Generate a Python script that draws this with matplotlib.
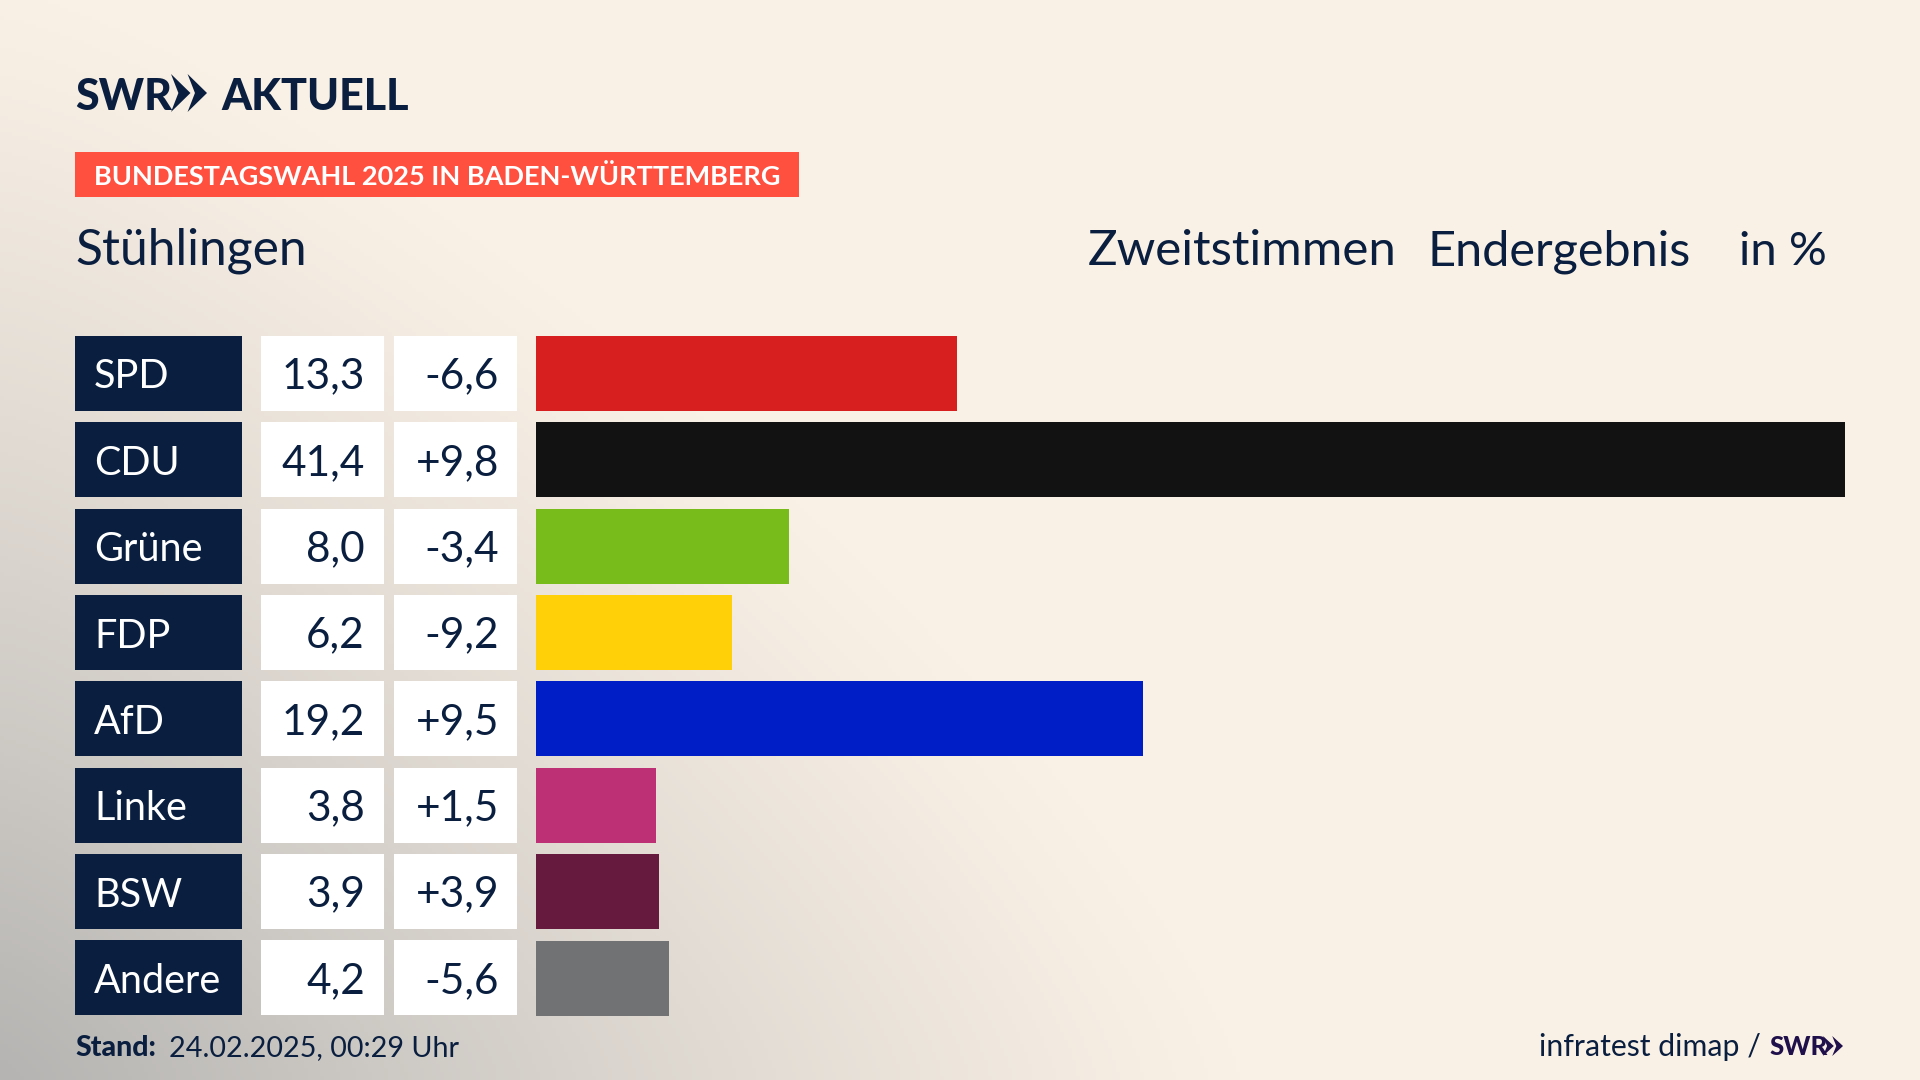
import numpy as np
import matplotlib
matplotlib.use("Agg")
import matplotlib.pyplot as plt
from matplotlib.patches import Rectangle, Polygon
from matplotlib.colors import LinearSegmentedColormap

parties = ["SPD", "CDU", "Grüne", "FDP", "AfD", "Linke", "BSW", "Andere"]
results = [13.3, 41.4, 8.0, 6.2, 19.2, 3.8, 3.9, 4.2]
changes = [-6.6, 9.8, -3.4, -9.2, 9.5, 1.5, 3.9, -5.6]
colors = ["#D81F1F", "#121212", "#78BC1B", "#FFCF08", "#001EC5", "#BD3075", "#661A3E", "#717274"]

NAVY = "#0A1F3F"
FONT = ["Lato", "DejaVu Sans"]


def de(v, sign=False):
    s = f"{v:+.1f}" if sign else f"{v:.1f}"
    return s.replace(".", ",")


def chevrons(ax, x, y, w, h, color):
    # zwei Pfeile vom SWR Logo
    cw = w * 0.54
    t = cw * 0.62
    for x0 in (x, x + w - cw):
        ax.add_patch(Polygon([(x0, y), (x0 + cw, y + h / 2), (x0, y + h), (x0 + cw - t, y + h / 2)],
                             closed=True, fc=color, ec="none"))


fig = plt.figure(figsize=(19.2, 10.8), dpi=100)
ax = fig.add_axes([0, 0, 1, 1])
ax.set_xlim(0, 1920)
ax.set_ylim(1080, 0)
ax.axis("off")

# Hintergrund
xx, yy = np.meshgrid(np.linspace(0, 1920, 480), np.linspace(0, 1080, 270))
d = ((xx / 1250) ** 1.3 + ((1080 - yy) / 1100) ** 1.3) ** (1 / 1.3)
cmap = LinearSegmentedColormap.from_list("bg", ["#FAF1E6", "#B5B4B2"])
ax.imshow(np.clip(1 - d, 0, 1) ** 1.15, extent=[0, 1920, 1080, 0], cmap=cmap, vmin=0, vmax=1, aspect="auto", zorder=0)

# Kopf
ax.text(75, 110, "SWR", family=FONT, weight="black", fontsize=31, color=NAVY, va="baseline")
chevrons(ax, 171, 74, 36, 38, NAVY)
ax.text(221, 110, "AKTUELL", family=FONT, weight="black", fontsize=31, color=NAVY, va="baseline")
ax.add_patch(Rectangle((75, 152), 724, 45, fc="#FF4F3E", ec="none"))
ax.text(94, 185, "BUNDESTAGSWAHL 2025 IN BADEN-WÜRTTEMBERG", family=FONT, weight="bold", fontsize=19.55,
        color="white", va="baseline")
ax.text(75, 265, "Stühlingen", family=FONT, fontsize=35.8, color=NAVY, va="baseline")
ax.text(1088, 265, "Zweitstimmen", family=FONT, fontsize=35.5, color=NAVY, va="baseline")
ax.text(1428, 265, "Endergebnis", family=FONT, fontsize=35, color=NAVY, va="baseline")
ax.text(1739, 265, "in %", family=FONT, fontsize=34, color=NAVY, va="baseline")

# Tabelle links
ROW_TOP = 336
ROW_PITCH = 86.35
ROW_H = 75
for i, party in enumerate(parties):
    top = ROW_TOP + i * ROW_PITCH
    base = top + ROW_H / 2 + 15
    ax.add_patch(Rectangle((75, top), 167, ROW_H, fc=NAVY, ec="none"))
    ax.add_patch(Rectangle((261, top), 123, ROW_H, fc="white", ec="none"))
    ax.add_patch(Rectangle((394, top), 123, ROW_H, fc="white", ec="none"))
    ax.text(94, base, party, family=FONT, fontsize=28.5, color="white", va="baseline")
    ax.text(365, base, de(results[i]), family=FONT, fontsize=30.5, color=NAVY, va="baseline", ha="right")
    ax.text(499, base, de(changes[i], True), family=FONT, fontsize=30.5, color=NAVY, va="baseline", ha="right")

# Balken
ax_bars = fig.add_axes([536 / 1920, 1 - 1015.5 / 1080, (1845 - 536) / 1920, (1015.5 - 336) / 1080])
ax_bars.patch.set_alpha(0)
ax_bars.barh(range(len(parties)), results, height=0.868, color=colors)
ax_bars.set_xlim(0, max(results))
ax_bars.set_ylim(7.434, -0.434)
ax_bars.axis("off")

# Fuss
ax.text(75, 1056, "Stand:", family=FONT, weight="black", fontsize=20.5, color=NAVY, va="baseline")
ax.text(169, 1056, "24.02.2025, 00:29 Uhr", family=FONT, fontsize=20.7, color=NAVY, va="baseline")
ax.text(1539, 1056, "infratest dimap /", family=FONT, fontsize=21.8, color=NAVY, va="baseline")
ax.text(1769, 1055, "SWR", family=FONT, weight="black", fontsize=18.5, color="#1F0F4A", va="baseline")
chevrons(ax, 1823, 1036, 20, 20, "#1F0F4A")

fig.savefig("out.png", dpi=100)
